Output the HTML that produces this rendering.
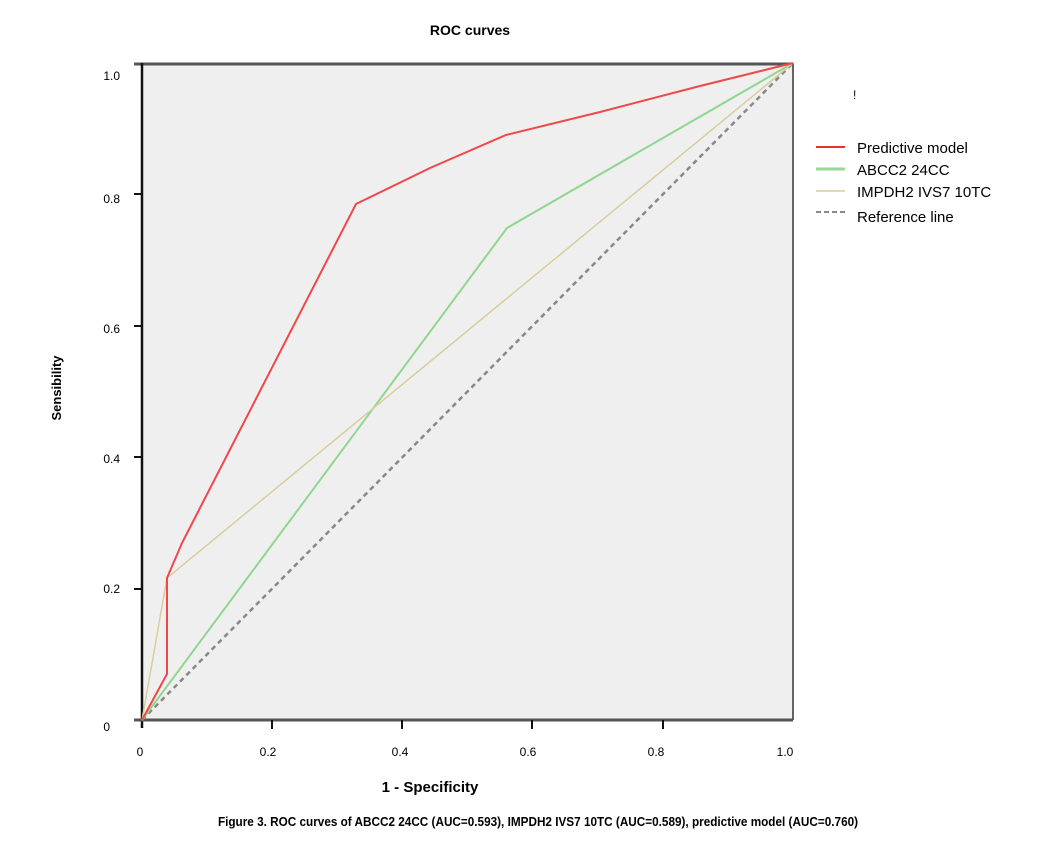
<!DOCTYPE html>
<html><head><style>
body{margin:0;background:#fff;width:1047px;height:840px;overflow:hidden}
text{font-family:"Liberation Sans",sans-serif}
</style></head><body>
<svg width="1047" height="840" xmlns="http://www.w3.org/2000/svg">
<text x="470" y="35" font-size="14" font-weight="bold" text-anchor="middle">ROC curves</text>
<rect x="142" y="63" width="651" height="657" fill="#f0efef"/>
<line x1="134" y1="64" x2="793" y2="64" stroke="#555" stroke-width="3"/>
<line x1="793" y1="63" x2="793" y2="720" stroke="#333" stroke-width="1.5"/>
<line x1="142" y1="63" x2="142" y2="728" stroke="#111" stroke-width="2.5"/>
<line x1="134" y1="720" x2="793" y2="720" stroke="#555" stroke-width="3"/>
<g stroke="#111" stroke-width="2">
<line x1="134" y1="194" x2="142" y2="194"/><line x1="134" y1="326" x2="142" y2="326"/>
<line x1="134" y1="457" x2="142" y2="457"/><line x1="134" y1="589" x2="142" y2="589"/>
<line x1="272" y1="720" x2="272" y2="729"/><line x1="402" y1="720" x2="402" y2="729"/>
<line x1="532" y1="720" x2="532" y2="729"/><line x1="663" y1="720" x2="663" y2="729"/>
</g>
<g font-size="12" text-anchor="end">
<text x="120" y="80">1.0</text><text x="120" y="203">0.8</text><text x="120" y="333">0.6</text>
<text x="120" y="463">0.4</text><text x="120" y="593">0.2</text><text x="110" y="731">0</text>
</g>
<g font-size="12" text-anchor="middle">
<text x="140" y="756">0</text><text x="268" y="756">0.2</text><text x="400" y="756">0.4</text>
<text x="528" y="756">0.6</text><text x="656" y="756">0.8</text><text x="785" y="756">1.0</text>
</g>
<text x="430" y="792" font-size="15" font-weight="bold" text-anchor="middle">1 - Specificity</text>
<text transform="translate(61,388) rotate(-90)" font-size="13" font-weight="bold" text-anchor="middle">Sensibility</text>
<line x1="142" y1="720" x2="793" y2="63" stroke="#888" stroke-width="2.5" stroke-dasharray="5,4"/>
<polyline points="142,720 507,228 793,63" fill="none" stroke="#8fd68f" stroke-width="2"/>
<polyline points="142,720 167,578 793,63" fill="none" stroke="#d6cf9a" stroke-width="1.5"/>
<polyline points="142,720 167,674 167,578 182,543 356,204 430,168 506,135 600,112 700,86 793,63" fill="none" stroke="#f04848" stroke-width="2"/>
<text x="853" y="99" font-size="12">!</text>
<g font-size="15">
<line x1="816" y1="147" x2="845" y2="147" stroke="#e83030" stroke-width="2"/><text x="857" y="153">Predictive model</text>
<line x1="816" y1="169" x2="845" y2="169" stroke="#9ad89a" stroke-width="3"/><text x="857" y="175">ABCC2 24CC</text>
<line x1="816" y1="191" x2="845" y2="191" stroke="#d6cf9a" stroke-width="1.5"/><text x="857" y="197">IMPDH2 IVS7 10TC</text>
<line x1="816" y1="212" x2="845" y2="212" stroke="#888" stroke-width="2" stroke-dasharray="5,3"/><text x="857" y="222">Reference line</text>
</g>
<text x="538" y="826" font-size="13" font-weight="bold" text-anchor="middle" transform="translate(538,0) scale(0.905,1) translate(-538,0)">Figure 3. ROC curves of ABCC2 24CC (AUC=0.593), IMPDH2 IVS7 10TC (AUC=0.589), predictive model (AUC=0.760)</text>
</svg>
</body></html>
